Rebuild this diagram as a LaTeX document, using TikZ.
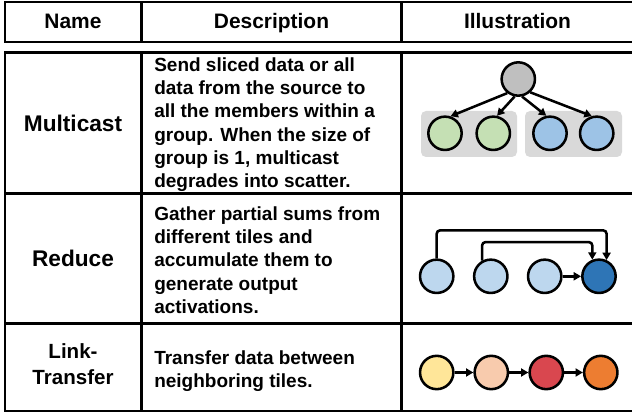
\documentclass[tikz,border=0pt]{standalone}
\usepackage{fontspec}
\setmainfont{Liberation Sans}
\usetikzlibrary{arrows.meta}

\definecolor{srcgray}{HTML}{BFBFBF}
\definecolor{grpgray}{HTML}{D9D9D9}
\definecolor{leafgreen}{HTML}{C5E0B4}
\definecolor{leafblue}{HTML}{9DC3E6}
\definecolor{psumblue}{HTML}{BDD7EE}
\definecolor{outblue}{HTML}{2E75B6}
\definecolor{tileyellow}{HTML}{FFE699}
\definecolor{tilepeach}{HTML}{F8CBAD}
\definecolor{tilered}{HTML}{D9474F}
\definecolor{tileorange}{HTML}{ED7D31}

\tikzset{
  frame/.style={line width=2pt},
  headtext/.style={font=\fontsize{15.7pt}{18pt}\selectfont\bfseries, inner sep=0pt, anchor=base},
  nametext/.style={font=\fontsize{17pt}{20pt}\selectfont\bfseries, inner sep=0pt, anchor=base},
  desctext/.style={font=\fontsize{14.25pt}{17.5pt}\selectfont\bfseries, inner sep=0pt,
    anchor=north west, align=left},
  tile/.style={circle, draw, line width=1.9pt, minimum size=25pt, inner sep=0pt},
  gbox/.style={fill=grpgray, rounded corners=3.75pt, inner sep=0pt},
  arr/.style={line width=1.9pt, -{Triangle[length=5.5pt,width=6pt]}},
}

\begin{document}
\begin{tikzpicture}[x=0.75pt,y=-0.75pt]
\useasboundingbox (0,0) rectangle (632,413);

% header row
\draw[frame] (5,2) rectangle (634,42);
\draw[frame] (141.5,2) -- (141.5,42);
\draw[frame] (401.5,2) -- (401.5,42);
\node[headtext] (hName) at (73,28.5) {Name};
\node[headtext] (hDesc) at (271.5,28.5) {Description};
\node[headtext] (hIllu) at (517.5,28.5) {Illustration};

% body grid
\draw[frame] (5,52.5) rectangle (634,411);
\draw[frame] (141.5,52.5) -- (141.5,411);
\draw[frame] (401.5,52.5) -- (401.5,411);
\draw[frame] (5,193.3) -- (634,193.3);
\draw[frame] (5,323.5) -- (634,323.5);

% operation names
\node[nametext] (nMulti) at (73,131.7) {Multicast};
\node[nametext] (nReduce) at (73,266.7) {Reduce};
\node[nametext, align=center, font=\fontsize{15.4pt}{20pt}\selectfont\bfseries, anchor=north]
  (nLink) at (73,343) {Link-\\Transfer};

% descriptions
\node[desctext] (dMulti) at (154,57) {Send sliced data or all\\data from the source to\\all the members within a\\group. When the size of\\group is 1, multicast\\degrades into scatter.};
\node[desctext] (dReduce) at (154,206) {Gather partial sums from\\different tiles and\\accumulate them to\\generate output\\activations.};
\node[desctext] (dLink) at (154,350) {Transfer data between\\neighboring tiles.};

% multicast: one source, two groups
\node[gbox, minimum width=72pt, minimum height=34.5pt] (grpL) at (469,134) {};
\node[gbox, minimum width=72.75pt, minimum height=34.5pt] (grpR) at (573.5,134) {};
\node[tile, fill=srcgray] (src) at (518.3,79) {};
\node[tile, fill=leafgreen] (g1) at (445,133.3) {};
\node[tile, fill=leafgreen] (g2) at (493.3,133.3) {};
\node[tile, fill=leafblue] (b1) at (550,133.3) {};
\node[tile, fill=leafblue] (b2) at (596.7,133.3) {};
\draw[arr] (src.232) -- (g1.72);
\draw[arr] (src.258) -- (g2.78);
\draw[arr] (src.282) -- (b1.102);
\draw[arr] (src.312) -- (b2.106);

% reduce: partial sums gathered into one tile
\node[tile, fill=psumblue] (r1) at (436.7,276.3) {};
\node[tile, fill=psumblue] (r2) at (490.8,276.3) {};
\node[tile, fill=psumblue] (r3) at (544.7,276.3) {};
\node[tile, fill=outblue] (r4) at (599,276.3) {};
\draw[arr] (r3) -- (r4);
\draw[arr, rounded corners=2.5pt] (r1.north) -- ++(0,-28) -| (r4.65);
\draw[arr, rounded corners=2.5pt] (r2.119) -- ++(0,-18.5) -| (r4.112);

% link-transfer: neighbour to neighbour chain
\node[tile, fill=tileyellow] (t1) at (436.7,372.5) {};
\node[tile, fill=tilepeach] (t2) at (491.3,372.5) {};
\node[tile, fill=tilered] (t3) at (546.3,372.5) {};
\node[tile, fill=tileorange] (t4) at (600.8,372.5) {};
\draw[arr] (t1) -- (t2);
\draw[arr] (t2) -- (t3);
\draw[arr] (t3) -- (t4);
\end{tikzpicture}
\end{document}
